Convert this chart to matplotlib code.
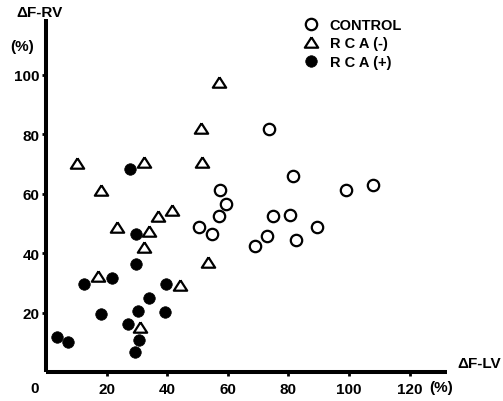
import matplotlib as mpl
mpl.use('Agg')
import matplotlib.pyplot as plt

# Control group (open circles): delta F-LV, delta F-RV (%)
control_x = [50.5, 54.8, 57.0, 57.4, 59.3, 68.9, 73.0, 73.7, 74.8, 80.6, 81.4, 82.5, 89.3, 99.0, 107.8]
control_y = [48.9, 46.6, 52.7, 61.3, 56.6, 42.5, 45.8, 81.8, 52.5, 52.9, 66.2, 44.6, 49.0, 61.2, 63.1]

# RCA (-) (open triangles)
rca_neg_x = [10.0, 16.9, 18.0, 23.2, 30.9, 32.2, 32.3, 34.0, 37.0, 41.6, 44.1, 51.0, 51.3, 53.5, 57.1]
rca_neg_y = [70.3, 32.5, 61.4, 49.0, 15.3, 42.1, 70.9, 47.5, 52.5, 54.7, 29.5, 82.2, 70.7, 37.0, 97.5]

# RCA (+) (filled circles)
rca_pos_x = [3.4, 7.0, 12.5, 18.0, 21.8, 27.0, 27.6, 29.3, 29.5, 29.5, 30.7, 30.4, 34.0, 39.3, 39.6]
rca_pos_y = [11.8, 10.2, 29.7, 19.7, 31.6, 16.3, 68.4, 6.8, 36.5, 46.6, 10.9, 20.8, 25.2, 20.3, 29.7]

xticks = [20, 40, 60, 80, 100, 120]
yticks = [20, 40, 60, 80, 100]

label_font = ['Liberation Sans Narrow', 'Liberation Sans', 'DejaVu Sans']
tick_font = ['Liberation Sans', 'DejaVu Sans']

fig = plt.figure(figsize=(5.03, 4.02), dpi=100)
ax = fig.add_axes([0.0924, 0.0709, 0.7963, 0.8793])

tri = [(0, 0.78), (-1, -0.78), (1, -0.78), (0, 0.78)]

ax.plot(control_x, control_y, linestyle='none', marker='o', markersize=8.2,
        markerfacecolor='white', markeredgecolor='black', markeredgewidth=1.6,
        label='CONTROL', clip_on=False)
ax.plot(rca_neg_x, rca_neg_y, linestyle='none', marker=tri, markersize=9.6,
        markerfacecolor='white', markeredgecolor='black', markeredgewidth=1.6,
        label='R C A (-)', clip_on=False)
ax.plot(rca_pos_x, rca_pos_y, linestyle='none', marker='o', markersize=8.3,
        markerfacecolor='black', markeredgecolor='black', markeredgewidth=0.5,
        label='R C A (+)', clip_on=False)

ax.set_xlim(0, 132.4)
ax.set_ylim(0, 118.8)

for s in ['top', 'right']:
    ax.spines[s].set_visible(False)
for s in ['left', 'bottom']:
    ax.spines[s].set_linewidth(2.9)
    ax.spines[s].set_capstyle('butt')

ax.set_xticks(xticks)
ax.set_xticklabels([str(v) for v in xticks], fontfamily=tick_font, fontweight='bold', fontsize=11)
ax.set_yticks(yticks)
ax.set_yticklabels([str(v) for v in yticks], fontfamily=tick_font, fontweight='bold', fontsize=11)
ax.tick_params(axis='x', direction='out', length=3, width=2, pad=4)
ax.tick_params(axis='y', direction='out', length=3, width=2, pad=2)

# Axis labels as in the original figure
fig.text(0.0795, 0.968, '\u0394F-RV', ha='center', va='center',
         fontfamily=label_font, fontweight='bold', fontsize=11)
fig.text(0.044, 0.883, '(%)', ha='center', va='center',
         fontfamily=label_font, fontweight='bold', fontsize=11)
fig.text(0.9085, 0.0945, '\u0394F-LV', ha='left', va='center',
         fontfamily=label_font, fontweight='bold', fontsize=11)
fig.text(0.877, 0.035, '(%)', ha='center', va='center',
         fontfamily=label_font, fontweight='bold', fontsize=11)
fig.text(0.0696, 0.032, '0', ha='center', va='center',
         fontfamily=tick_font, fontweight='bold', fontsize=11)

leg = ax.legend(loc='upper left', bbox_to_anchor=(0.589, 0.971), bbox_transform=fig.transFigure,
                frameon=False, borderpad=0, handlelength=1.0, handletextpad=0.8,
                labelspacing=0.3, prop={'family': label_font, 'weight': 'bold', 'size': 10.5})

plt.savefig('out.png', dpi=100)
plt.close()
